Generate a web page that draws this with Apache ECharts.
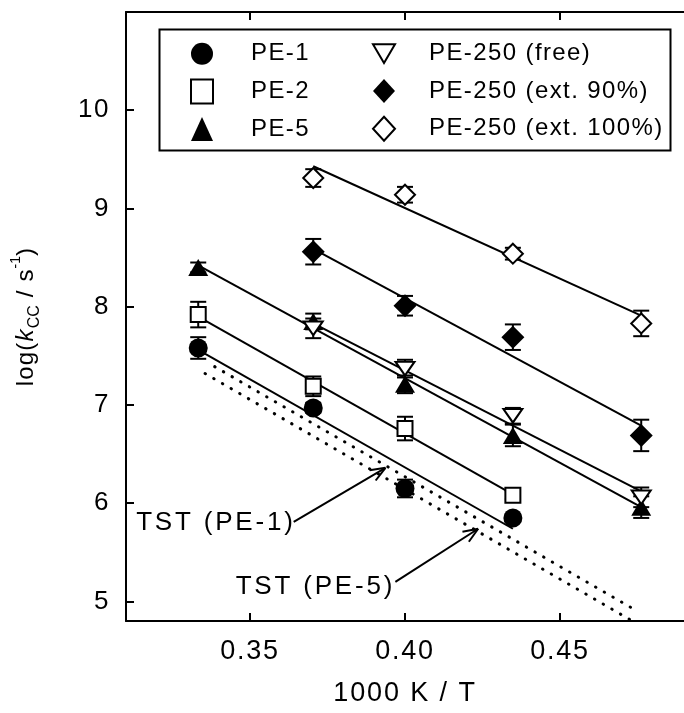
<!DOCTYPE html>
<html>
<head>
<meta charset="utf-8">
<script src="https://cdn.jsdelivr.net/npm/echarts@6/dist/echarts.min.js"></script>
<style>
html,body{margin:0;padding:0;background:#fff;}
#chart{width:684px;height:713px;}
</style>
</head>
<body>
<div id="chart"></div>
<script>
// 1000 K / T values
var xs = [0.3333, 0.3704, 0.4000, 0.4348, 0.4762];
// log(kCC / s^-1) values and error bars
var pe1 = [7.58, 6.97, 6.15, 5.85];        // xs[0..3]
var pe1Err = [0.11, 0.05, 0.09, 0.04];
var pe2 = [7.92, 7.19, 6.76, 6.08];        // xs[0..3]
var pe2Err = [0.13, 0.10, 0.12, 0.04];
var pe5 = [8.40, 7.85, 7.21, 6.69, 5.96];  // xs[0..4]
var pe5Err = [0.05, 0.08, 0.09, 0.11, 0.11];
var peFree = [7.78, 7.37, 6.89, 6.06];     // xs[1..4]
var peFreeErr = [0.10, 0.09, 0.08, 0.10];
var pe90 = [8.56, 8.01, 7.69, 6.69];       // xs[1..4]
var pe90Err = [0.13, 0.10, 0.13, 0.16];
var pe100 = [9.31, 9.14, 8.54, 7.83];      // xs[1..4]
var pe100Err = [0.09, 0.08, 0.06, 0.13];

// fitted straight lines [x, y] end points
var fitPE1 = [[0.3333, 7.56], [0.4348, 5.74]];
var fitPE2 = [[0.3333, 7.90], [0.4348, 6.09]];
var fitPE5 = [[0.3333, 8.42], [0.4762, 5.96]];
var fitFree = [[0.3704, 7.83], [0.4762, 6.12]];
var fit90 = [[0.3704, 8.59], [0.4762, 6.79]];
var fit100 = [[0.3704, 9.43], [0.4762, 7.91]];

// transition state theory predictions (dotted)
var tstPE1 = [[0.3386, 7.39], [0.4750, 4.90]];
var tstPE5 = [[0.3355, 7.32], [0.4734, 4.80]];

// annotations: [labelX, labelY, tailX, tailY, headX, headY]
var annotNames = ['TST (PE-1)', 'TST (PE-5)'];
var annotPos = [
  [0.3390, 5.80, 0.3641, 5.81, 0.3937, 6.36],
  [0.3711, 5.15, 0.3969, 5.20, 0.4236, 5.74]
];

var xTicks = [0.35, 0.40, 0.45];
var yTicks = [5, 6, 7, 8, 9, 10];
var legendLeft = ['PE-1', 'PE-2', 'PE-5'];
var legendRight = ['PE-250 (free)', 'PE-250 (ext. 90%)', 'PE-250 (ext. 100%)'];

var FONT = 'Liberation Sans, Arial, Helvetica, sans-serif';

// Wide letter spacing of the original typesetting: a font size such as 24.014
// carries a letter spacing of 1.4px in its fractional part.
(function () {
  var P = window.CanvasRenderingContext2D && CanvasRenderingContext2D.prototype;
  if (!P || !('letterSpacing' in P)) return;
  var d = Object.getOwnPropertyDescriptor(P, 'font');
  if (!d || !d.set) return;
  Object.defineProperty(P, 'font', {
    configurable: true, enumerable: d.enumerable,
    get: function () { return d.get.call(this); },
    set: function (v) {
      d.set.call(this, v);
      var m = /(\d+(?:\.\d+)?)px/.exec(String(v));
      var ls = 0;
      if (m) { var s = parseFloat(m[1]); ls = Math.round((s - Math.floor(s)) * 1000) / 10; }
      this.letterSpacing = ls + 'px';
    }
  });
})();
function fs(size, spacing) { return size + spacing / 100; }

function pts(xsub, ys) { return ys.map(function (v, i) { return [xsub[i], v]; }); }
function errPts(xsub, ys, es) { return ys.map(function (v, i) { return [xsub[i], v, es[i]]; }); }

var x0 = xs.slice(0, 4), x1 = xs.slice(1, 5), xa = xs.slice(0, 5);

var filled = { color: '#000', borderWidth: 0, opacity: 1 };
var hollow = { color: '#fff', borderColor: '#000', borderWidth: 2, opacity: 1 };

function scatter(name, data, symbol, size, style) {
  return { type: 'scatter', name: name, data: data, symbol: symbol, symbolSize: size,
    symbolKeepAspect: true, itemStyle: style, z: 5, silent: true };
}
function fitLine(name, data) {
  return { type: 'line', name: name, data: data, showSymbol: false, symbol: 'none',
    lineStyle: { color: '#000', width: 2 }, z: 3, silent: true };
}
function dotLine(name, data) {
  return { type: 'line', name: name, data: data, showSymbol: false, symbol: 'none',
    lineStyle: { color: '#000', width: 3, type: [0.5, 9.5], cap: 'round' }, z: 3, silent: true };
}
function errSeries(name, data) {
  return { type: 'custom', name: name, data: data, encode: { x: 0, y: 1 }, z: 2, silent: true,
    renderItem: function (params, api) {
      var x = api.value(0), y = api.value(1), e = api.value(2);
      var a = api.coord([x, y + e]), b = api.coord([x, y - e]);
      var hw = 8;
      var st = { stroke: '#000', lineWidth: 2 };
      return { type: 'group', children: [
        { type: 'line', shape: { x1: a[0], y1: a[1], x2: b[0], y2: b[1] }, style: st },
        { type: 'line', shape: { x1: a[0] - hw, y1: a[1], x2: a[0] + hw, y2: a[1] }, style: st },
        { type: 'line', shape: { x1: b[0] - hw, y1: b[1], x2: b[0] + hw, y2: b[1] }, style: st }
      ]};
    } };
}

var annotData = annotPos.map(function (p, i) { return p.concat([i]); });
var annotSeries = {
  type: 'custom', name: 'annot', data: annotData, z: 6, silent: true,
  encode: { x: 0, y: 1 },
  renderItem: function (params, api) {
    var t = api.coord([api.value(0), api.value(1)]);
    var a = api.coord([api.value(2), api.value(3)]);
    var h = api.coord([api.value(4), api.value(5)]);
    var ang = Math.atan2(a[1] - h[1], a[0] - h[0]);
    var L = 16, d = 0.38;
    var st = { stroke: '#000', lineWidth: 2 };
    return { type: 'group', children: [
      { type: 'line', shape: { x1: a[0], y1: a[1], x2: h[0], y2: h[1] }, style: st },
      { type: 'line', shape: { x1: h[0], y1: h[1], x2: h[0] + L * Math.cos(ang + d), y2: h[1] + L * Math.sin(ang + d) }, style: st },
      { type: 'line', shape: { x1: h[0], y1: h[1], x2: h[0] + L * Math.cos(ang - d), y2: h[1] + L * Math.sin(ang - d) }, style: st },
      { type: 'text', x: t[0], y: t[1], style: { text: annotNames[api.value(6)], fill: '#000',
        font: fs(26, 2.8) + 'px ' + FONT, align: 'center', verticalAlign: 'middle' } }
    ]};
  }
};

var downTri = 'path://M0,0L20,0L10,17Z';

var axisCommon = {
  type: 'value',
  axisLine: { show: true, onZero: false, lineStyle: { color: '#000', width: 2 } },
  splitLine: { show: false }
};

var option = {
  animation: false,
  backgroundColor: '#fff',
  textStyle: { fontFamily: FONT },
  grid: { left: 126, top: 12, right: -14, bottom: 86, containLabel: false },
  xAxis: [
    Object.assign({}, axisCommon, {
      min: 0.31, max: 0.49, position: 'bottom',
      axisTick: { show: true, inside: true, length: 8, customValues: xTicks, lineStyle: { color: '#000', width: 2 } },
      axisLabel: { show: true, customValues: xTicks, margin: 16, fontSize: fs(27, 1.8), color: '#000', fontFamily: FONT,
        formatter: function (v) { return v.toFixed(2); } },
      name: '1000 K / T', nameLocation: 'middle', nameGap: 58,
      nameTextStyle: { fontSize: fs(27, 1.9), color: '#000', fontFamily: FONT }
    }),
    Object.assign({}, axisCommon, {
      min: 0.31, max: 0.49, position: 'top',
      axisTick: { show: true, inside: true, length: 8, customValues: xTicks, lineStyle: { color: '#000', width: 2 } },
      axisLabel: { show: false }
    })
  ],
  yAxis: [
    Object.assign({}, axisCommon, {
      min: 4.8, max: 11, position: 'left',
      axisTick: { show: true, inside: true, length: 8, customValues: yTicks, lineStyle: { color: '#000', width: 2 } },
      axisLabel: { show: true, customValues: yTicks, margin: 16, fontSize: fs(26, 1.6), color: '#000', fontFamily: FONT },
      name: '{n|log(}{i|k}{sub|CC}{n| / s}{sup|-1}{n|)}',
      nameLocation: 'middle', nameRotate: 90, nameGap: 83,
      nameTextStyle: {
        color: '#000',
        rich: {
          n: { fontSize: fs(24, 1.2), fontFamily: FONT, color: '#000', lineHeight: 34 },
          i: { fontSize: fs(24, 1.2), fontFamily: FONT, fontStyle: 'italic', color: '#000', lineHeight: 34 },
          sub: { fontSize: 16, fontFamily: FONT, color: '#000', lineHeight: 16, verticalAlign: 'bottom' },
          sup: { fontSize: 14, fontFamily: FONT, color: '#000', lineHeight: 14, verticalAlign: 'top' }
        }
      }
    })
  ],
  legend: [
    { data: legendLeft, orient: 'vertical', left: 190, top: 41, padding: 0,
      itemWidth: 22, itemHeight: 24, itemGap: 12, selectedMode: false,
      textStyle: { fontSize: fs(24, 1.4), lineHeight: 24, color: '#000', fontFamily: FONT, padding: [0, 0, 0, 33] } },
    { data: legendRight, orient: 'vertical', left: 372, top: 41, padding: 0,
      itemWidth: 22, itemHeight: 24, itemGap: 12, selectedMode: false,
      textStyle: { fontSize: fs(24, 1.4), lineHeight: 24, color: '#000', fontFamily: FONT, padding: [0, 0, 0, 29] } }
  ],
  graphic: [
    { type: 'rect', left: 157, top: 27, shape: { width: 511, height: 121 },
      style: { fill: 'none', stroke: '#000', lineWidth: 2 }, silent: true }
  ],
  series: [
    errSeries('err1', errPts(x0, pe1, pe1Err)),
    errSeries('err2', errPts(x0, pe2, pe2Err)),
    errSeries('err5', errPts(xa, pe5, pe5Err)),
    errSeries('errF', errPts(x1, peFree, peFreeErr)),
    errSeries('err90', errPts(x1, pe90, pe90Err)),
    errSeries('err100', errPts(x1, pe100, pe100Err)),
    fitLine('fit PE-1', fitPE1),
    fitLine('fit PE-2', fitPE2),
    fitLine('fit PE-5', fitPE5),
    fitLine('fit free', fitFree),
    fitLine('fit 90', fit90),
    fitLine('fit 100', fit100),
    dotLine('TST PE-1', tstPE1),
    dotLine('TST PE-5', tstPE5),
    scatter('PE-1', pts(x0, pe1), 'circle', 19, filled),
    scatter('PE-2', pts(x0, pe2), 'rect', 15, hollow),
    scatter('PE-5', pts(xa, pe5), 'triangle', [20, 17], filled),
    scatter('PE-250 (free)', pts(x1, peFree), downTri, [19, 16], hollow),
    scatter('PE-250 (ext. 90%)', pts(x1, pe90), 'diamond', [23, 23], filled),
    scatter('PE-250 (ext. 100%)', pts(x1, pe100), 'diamond', [20, 20], hollow),
    annotSeries
  ]
};

var chart = echarts.init(document.getElementById('chart'), null, { renderer: 'canvas' });
chart.setOption(option);
</script>
</body>
</html>
